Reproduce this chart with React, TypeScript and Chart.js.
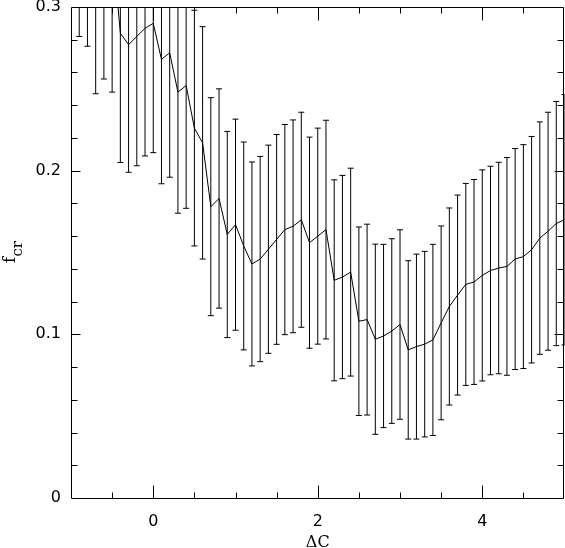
import React, { useEffect, useRef } from "react";
import { Chart, registerables } from "chart.js";

Chart.register(...registerables);

// Delta C values (x) of each measurement
const X_VALUES = [
  -0.9, -0.8, -0.7, -0.6, -0.5, -0.4, -0.3, -0.2, -0.1, 0.0,
  0.1, 0.2, 0.3, 0.4, 0.5, 0.6, 0.7, 0.8, 0.9, 1.0,
  1.1, 1.2, 1.3, 1.4, 1.5, 1.6, 1.7, 1.8, 1.9, 2.0,
  2.1, 2.2, 2.3, 2.4, 2.5, 2.6, 2.7, 2.8, 2.9, 3.0,
  3.1, 3.2, 3.3, 3.4, 3.5, 3.6, 3.7, 3.8, 3.9, 4.0,
  4.1, 4.2, 4.3, 4.4, 4.5, 4.6, 4.7, 4.8, 4.9, 5.0,
];

// f_cr values
const F_VALUES = [
  0.370, 0.365, 0.335, 0.345, 0.340, 0.284, 0.277, 0.282, 0.287, 0.290,
  0.268, 0.272, 0.248, 0.252, 0.226, 0.217, 0.178, 0.183, 0.161, 0.167,
  0.154, 0.143, 0.146, 0.152, 0.158, 0.164, 0.166, 0.170, 0.156, 0.160,
  0.164, 0.133, 0.135, 0.138, 0.108, 0.109, 0.097, 0.099, 0.102, 0.106,
  0.0905, 0.0925, 0.094, 0.0966, 0.107, 0.117, 0.124, 0.1305, 0.132, 0.136,
  0.139, 0.1405, 0.1415, 0.146, 0.1475, 0.1517, 0.1588, 0.163, 0.1677, 0.170,
];

// symmetric error of f_cr
const F_ERRORS = [
  0.088, 0.089, 0.088, 0.089, 0.092, 0.079, 0.078, 0.079, 0.078, 0.079,
  0.076, 0.076, 0.074, 0.075, 0.072, 0.071, 0.0666, 0.067, 0.063, 0.0645,
  0.0635, 0.0623, 0.0627, 0.0636, 0.0641, 0.0642, 0.065, 0.0657, 0.0645, 0.066,
  0.0668, 0.0614, 0.0621, 0.0635, 0.0576, 0.0583, 0.0581, 0.056, 0.0564, 0.0579,
  0.0545, 0.0565, 0.0567, 0.0584, 0.0592, 0.0602, 0.0611, 0.0617, 0.0626, 0.0645,
  0.0637, 0.0646, 0.0665, 0.0675, 0.0684, 0.0692, 0.071, 0.0727, 0.0746, 0.0765,
];

const X_TICKS = [0, 2, 4];
const Y_TICKS = [0, 0.1, 0.2, 0.3];
const X_MIN = -1;
const X_MAX = 5;
const Y_MIN = 0;
const Y_MAX = 0.3;
const X_TITLE = "ΔC";
const Y_TITLE_MAIN = "f";
const Y_TITLE_SUB = "cr";

const errorBarsPlugin = {
  id: "errorBars",
  beforeDatasetsDraw(chart: any) {
    const { ctx, chartArea, scales } = chart;
    const xs = scales.x;
    const ys = scales.y;
    ctx.save();
    ctx.beginPath();
    ctx.rect(chartArea.left, chartArea.top, chartArea.right - chartArea.left, chartArea.bottom - chartArea.top);
    ctx.clip();
    ctx.strokeStyle = "#000";
    ctx.lineWidth = 1;
    ctx.beginPath();
    for (let i = 0; i < X_VALUES.length; i++) {
      const px = xs.getPixelForValue(X_VALUES[i]);
      const pt = ys.getPixelForValue(F_VALUES[i] + F_ERRORS[i]);
      const pb = ys.getPixelForValue(F_VALUES[i] - F_ERRORS[i]);
      ctx.moveTo(px, pt);
      ctx.lineTo(px, pb);
      ctx.moveTo(px - 3, pt);
      ctx.lineTo(px + 3, pt);
      ctx.moveTo(px - 3, pb);
      ctx.lineTo(px + 3, pb);
    }
    ctx.stroke();
    ctx.restore();
  },
};

const framePlugin = {
  id: "frameTicks",
  afterDraw(chart: any) {
    const { ctx, chartArea, scales } = chart;
    const xs = scales.x;
    const ys = scales.y;
    const L = Math.floor(chartArea.left) + 0.5;
    const R = Math.floor(chartArea.right) - 0.5;
    const T = Math.floor(chartArea.top) + 0.5;
    const B = Math.floor(chartArea.bottom) + 0.5;
    ctx.save();
    ctx.strokeStyle = "#000";
    ctx.lineWidth = 1;
    ctx.beginPath();
    ctx.rect(L, T, R - L, B - T);
    // y ticks (left and right), minor every 0.02, major every 0.1
    for (let k = 1; k < 15; k++) {
      const v = k * 0.02;
      const py = Math.round(ys.getPixelForValue(v)) + 0.5;
      const len = k % 5 === 0 ? 9 : 6;
      ctx.moveTo(L, py);
      ctx.lineTo(L + len, py);
      ctx.moveTo(R, py);
      ctx.lineTo(R - len, py);
    }
    // x ticks (bottom and top), minor every 0.5, major every 2
    for (let k = -1; k < 10; k++) {
      const v = k * 0.5;
      const px = Math.round(xs.getPixelForValue(v)) + 0.5;
      const len = k % 4 === 0 ? 13 : 6;
      ctx.moveTo(px, B);
      ctx.lineTo(px, B - len);
      ctx.moveTo(px, T);
      ctx.lineTo(px, T + len);
    }
    ctx.stroke();

    // axis titles
    ctx.fillStyle = "#000";
    ctx.textAlign = "center";
    ctx.textBaseline = "alphabetic";
    ctx.font = "16px 'DejaVu Serif'";
    ctx.fillText(X_TITLE, (chartArea.left + chartArea.right) / 2, 547);

    ctx.save();
    ctx.translate(15, 263);
    ctx.rotate(-Math.PI / 2);
    ctx.textAlign = "left";
    ctx.font = "16px 'DejaVu Serif'";
    ctx.fillText(Y_TITLE_MAIN, 0, 0);
    const fw = ctx.measureText(Y_TITLE_MAIN).width;
    ctx.font = "15px 'DejaVu Serif'";
    ctx.fillText(Y_TITLE_SUB, fw + 0.5, 7);
    ctx.restore();

    ctx.restore();
  },
};

export default function App() {
  const canvasRef = useRef<HTMLCanvasElement | null>(null);

  useEffect(() => {
    document.body.style.margin = "0";
    const canvas = canvasRef.current;
    if (!canvas) return;
    const chart = new Chart(canvas, {
      type: "line",
      data: {
        datasets: [
          {
            data: X_VALUES.map((x, i) => ({ x, y: F_VALUES[i] })),
            borderColor: "#000",
            borderWidth: 1,
            pointRadius: 0,
            tension: 0,
            fill: false,
          },
        ],
      },
      options: {
        responsive: false,
        animation: false,
        events: [],
        layout: { padding: { top: 7, right: 0.5, left: 0, bottom: 0 } },
        plugins: {
          legend: { display: false },
          tooltip: { enabled: false },
          title: { display: false },
        },
        scales: {
          x: {
            type: "linear",
            min: X_MIN,
            max: X_MAX,
            border: { display: false },
            grid: { display: false, drawTicks: false },
            afterBuildTicks: (scale: any) => {
              scale.ticks = X_TICKS.map((v) => ({ value: v }));
            },
            afterFit: (scale: any) => {
              scale.height = 50;
              scale.paddingLeft = 0;
              scale.paddingRight = 0;
            },
            ticks: {
              padding: 14,
              maxRotation: 0,
              autoSkip: false,
              color: "#000",
              font: { family: "'DejaVu Sans'", size: 16 },
              callback: (v: any) => String(v),
            },
          },
          y: {
            type: "linear",
            min: Y_MIN,
            max: Y_MAX,
            border: { display: false },
            grid: { display: false, drawTicks: false },
            afterBuildTicks: (scale: any) => {
              scale.ticks = Y_TICKS.map((v) => ({ value: v }));
            },
            afterFit: (scale: any) => {
              scale.width = 71;
              scale.paddingTop = 0;
              scale.paddingBottom = 0;
            },
            ticks: {
              padding: 10,
              autoSkip: false,
              color: "#000",
              font: { family: "'DejaVu Sans'", size: 16 },
              callback: (v: any) => (v === 0 ? "0" : Number(v).toFixed(1)),
            },
          },
        },
      },
      plugins: [errorBarsPlugin, framePlugin],
    });
    return () => chart.destroy();
  }, []);

  return (
    <div style={{ width: 565, height: 548 }}>
      <canvas ref={canvasRef} width={565} height={548} style={{ display: "block" }} />
    </div>
  );
}
